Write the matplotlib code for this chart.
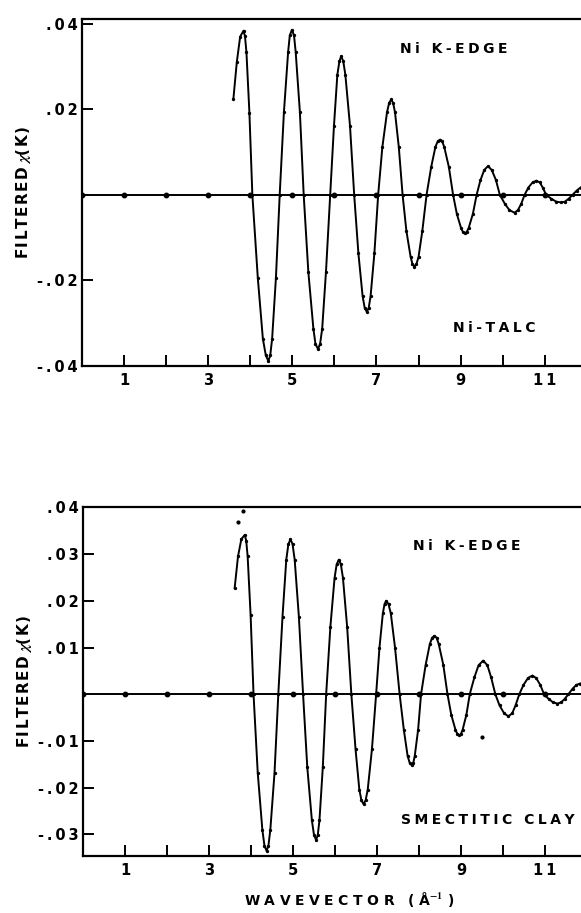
import numpy as np
import matplotlib
matplotlib.use("Agg")
import matplotlib.pyplot as plt
from matplotlib.ticker import FixedLocator, FuncFormatter

# filtered chi(k)
k_talc = [3.60, 3.68, 3.76, 3.84, 3.875, 3.91, 3.98, 4.05, 4.18, 4.30,
          4.37, 4.43, 4.475, 4.52, 4.61, 4.70, 4.80, 4.90, 4.94, 4.99,
          5.04, 5.08, 5.18, 5.27, 5.38, 5.50, 5.55, 5.61, 5.66, 5.71,
          5.80, 5.90, 5.99, 6.07, 6.12, 6.16, 6.21, 6.26, 6.37, 6.47,
          6.57, 6.67, 6.72, 6.77, 6.815, 6.86, 6.95, 7.04, 7.14, 7.25,
          7.30, 7.35, 7.395, 7.44, 7.53, 7.62, 7.71, 7.81, 7.855, 7.90,
          7.95, 8.00, 8.09, 8.19, 8.30, 8.40, 8.455, 8.51, 8.56, 8.61,
          8.72, 8.82, 8.91, 9.01, 9.055, 9.10, 9.145, 9.19, 9.29, 9.38,
          9.47, 9.56, 9.65, 9.74, 9.84, 9.93, 10.05, 10.16, 10.28, 10.36,
          10.44, 10.52, 10.61, 10.71, 10.80, 10.88, 10.95, 11.03, 11.15, 11.27,
          11.39, 11.48, 11.57, 11.66, 11.76, 11.85]
chi_talc = [0.0225, 0.0310, 0.0370, 0.0384, 0.0371, 0.0333, 0.0192, 0.0, -0.0195, -0.0337,
            -0.0376, -0.0389, -0.0376, -0.0337, -0.0195, 0.0, 0.0193, 0.0334, 0.0373, 0.0386,
            0.0373, 0.0334, 0.0193, 0.0, -0.0180, -0.0313, -0.0349, -0.0361, -0.0349, -0.0313,
            -0.0180, 0.0, 0.0162, 0.0281, 0.0313, 0.0324, 0.0313, 0.0281, 0.0162, 0.0,
            -0.0137, -0.0237, -0.0265, -0.0274, -0.0265, -0.0237, -0.0137, 0.0, 0.0112, 0.0193,
            0.0215, 0.0223, 0.0215, 0.0193, 0.0112, 0.0, -0.0084, -0.0145, -0.0162, -0.0168,
            -0.0162, -0.0145, -0.0084, 0.0, 0.0065, 0.0112, 0.0125, 0.0129, 0.0125, 0.0112,
            0.0065, 0.0, -0.0045, -0.0078, -0.0087, -0.0090, -0.0087, -0.0078, -0.0045, 0.0,
            0.0034, 0.0058, 0.0067, 0.0058, 0.0034, 0.0, -0.0021, -0.0036, -0.0042, -0.0036,
            -0.0021, 0.0, 0.0017, 0.0029, 0.0033, 0.0029, 0.0017, 0.0, -0.0009, -0.0016,
            -0.0018, -0.0016, -0.0009, 0.0, 0.0010, 0.0017]

# filtered chi(k)
k_clay = [3.61, 3.69, 3.77, 3.85, 3.885, 3.92, 3.99, 4.06, 4.16, 4.27,
          4.32, 4.37, 4.415, 4.46, 4.56, 4.65, 4.75, 4.84, 4.89, 4.94,
          4.99, 5.04, 5.14, 5.24, 5.34, 5.45, 5.50, 5.55, 5.59, 5.63,
          5.71, 5.79, 5.89, 5.99, 6.04, 6.09, 6.14, 6.19, 6.29, 6.39,
          6.49, 6.58, 6.63, 6.68, 6.73, 6.78, 6.88, 6.98, 7.06, 7.14,
          7.18, 7.22, 7.275, 7.33, 7.43, 7.54, 7.64, 7.73, 7.78, 7.83,
          7.865, 7.90, 7.98, 8.05, 8.16, 8.26, 8.315, 8.37, 8.42, 8.47,
          8.58, 8.68, 8.77, 8.87, 8.915, 8.96, 9.00, 9.04, 9.13, 9.21,
          9.32, 9.42, 9.53, 9.63, 9.72, 9.82, 9.92, 10.03, 10.13, 10.22,
          10.30, 10.39, 10.49, 10.60, 10.70, 10.79, 10.89, 10.98, 11.09, 11.19,
          11.30, 11.39, 11.47, 11.56, 11.66, 11.75, 11.84]
chi_clay = [0.0227, 0.0295, 0.0332, 0.0341, 0.0329, 0.0295, 0.0170, 0.0, -0.0168, -0.0290,
            -0.0324, -0.0335, -0.0324, -0.0290, -0.0168, 0.0, 0.0166, 0.0288, 0.0321, 0.0332,
            0.0321, 0.0288, 0.0166, 0.0, -0.0156, -0.0270, -0.0301, -0.0312, -0.0301, -0.0270,
            -0.0156, 0.0, 0.0144, 0.0249, 0.0278, 0.0288, 0.0278, 0.0249, 0.0144, 0.0,
            -0.0118, -0.0204, -0.0227, -0.0235, -0.0227, -0.0204, -0.0118, 0.0, 0.0100, 0.0173,
            0.0193, 0.0200, 0.0193, 0.0173, 0.0100, 0.0, -0.0076, -0.0132, -0.0147, -0.0152,
            -0.0147, -0.0132, -0.0076, 0.0, 0.0063, 0.0108, 0.0121, 0.0125, 0.0121, 0.0108,
            0.0063, 0.0, -0.0044, -0.0076, -0.0085, -0.0088, -0.0085, -0.0076, -0.0044, 0.0,
            0.0036, 0.0062, 0.0072, 0.0062, 0.0036, 0.0, -0.0024, -0.0041, -0.0047, -0.0041,
            -0.0024, 0.0, 0.0020, 0.0035, 0.0040, 0.0035, 0.0020, 0.0, -0.0010, -0.0017,
            -0.0020, -0.0017, -0.0010, 0.0, 0.0012, 0.0020, 0.0023]

# loose points off the curve in the clay panel
k_stray = [3.68, 3.80, 9.50]
chi_stray = [0.0368, 0.0393, -0.0092]

k_grid = [0, 1, 2, 3, 4, 5, 6, 7, 8, 9, 10, 11]

yticks_talc = [0.04, 0.02, -0.02, -0.04]
yticks_clay = [0.04, 0.03, 0.02, 0.01, -0.01, -0.02, -0.03]

plt.rcParams['font.family'] = ['DejaVu Sans']
plt.rcParams['font.weight'] = 'bold'
plt.rcParams['mathtext.fontset'] = 'stix'

SP = "\u2005"   # letter spacing like the old lettering
SP_T = "\u2009"


def spaced(s, sp=SP):
    return sp.join(s)


def fmt(v, pos):
    s = "%.2f" % v
    return spaced(s.replace("0.", "."), SP_T)


def setup(ax, ylim, yticks):
    ax.set_xlim(0.0, 11.86)
    ax.set_ylim(*ylim)
    ax.spines['right'].set_visible(False)
    for s in ('left', 'top', 'bottom'):
        ax.spines[s].set_linewidth(1.6)
    ax.xaxis.set_major_locator(FixedLocator([1, 3, 5, 7, 9, 11]))
    ax.xaxis.set_major_formatter(FuncFormatter(lambda v, p: spaced(str(int(v)), SP_T)))
    ax.xaxis.set_minor_locator(FixedLocator([2, 4, 6, 8, 10]))
    ax.yaxis.set_major_locator(FixedLocator(yticks))
    ax.yaxis.set_major_formatter(FuncFormatter(fmt))
    ax.tick_params(axis='both', which='both', direction='in', length=8, width=1.4,
                   top=False, right=False, labelsize=10.5)
    ax.tick_params(axis='x', pad=5)
    ax.tick_params(axis='y', pad=3)
    ax.set_ylabel(spaced("FILTERED", "\u200a") + " $\\chi$" + spaced("(K)", "\u200a"),
                  fontsize=11, fontweight='bold', labelpad=3)


fig = plt.figure(figsize=(5.81, 9.13), dpi=100)
ax1 = fig.add_axes([0.141, 0.599, 0.859, 0.380])
ax2 = fig.add_axes([0.143, 0.0625, 0.857, 0.3823])

for ax, k, chi in ((ax1, k_talc, chi_talc), (ax2, k_clay, chi_clay)):
    ax.plot([0, 12], [0, 0], color='black', lw=1.4)
    ax.plot(k_grid, [0] * len(k_grid), 'o', color='black', ms=3.2)
    ax.plot(k, chi, color='black', lw=1.4, marker='o', ms=1.4)

ax2.plot(k_stray, chi_stray, 'o', color='black', ms=2.0, ls='none')

setup(ax1, (-0.0401, 0.0411), yticks_talc)
setup(ax2, (-0.0346, 0.0401), yticks_clay)

ax1.text(0.745, 0.915, spaced("Ni K-EDGE"), transform=ax1.transAxes, ha='center', va='center',
         fontsize=10, fontweight='bold')
ax1.text(0.827, 0.111, spaced("Ni-TALC"), transform=ax1.transAxes, ha='center', va='center',
         fontsize=10, fontweight='bold')
ax2.text(0.770, 0.888, spaced("Ni K-EDGE"), transform=ax2.transAxes, ha='center', va='center',
         fontsize=10, fontweight='bold')
ax2.text(0.812, 0.103, spaced("SMECTITIC CLAY"), transform=ax2.transAxes, ha='center', va='center',
         fontsize=10, fontweight='bold')

ax2.set_xlabel(spaced("WAVEVECTOR (Å", "\u2004") + r"$^{\mathbf{-1}}$" + "\u2004)",
               fontsize=10, fontweight='bold')
ax2.xaxis.set_label_coords(0.535, -0.097)

fig.savefig("out.png", dpi=100)
